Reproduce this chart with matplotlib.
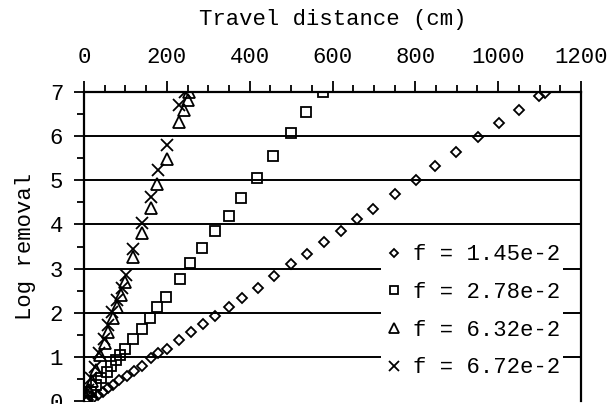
import matplotlib
matplotlib.use("Agg")
import matplotlib.pyplot as plt
from matplotlib.ticker import MultipleLocator

plt.rcParams['font.family'] = ['Liberation Mono', 'DejaVu Sans']

# f = 1.45e-2 (diamonds)
d_x = [10, 22, 33, 45, 57, 71, 85, 103, 121, 141, 161, 179, 200, 229, 258, 288, 317, 351,
       381, 420, 459, 500, 538, 580, 620, 660, 698, 751, 802, 847, 898, 952, 1002, 1050, 1098, 1113]
d_y = [0.02, 0.07, 0.14, 0.21, 0.29, 0.36, 0.48, 0.57, 0.68, 0.79, 0.97, 1.08, 1.17, 1.38, 1.57, 1.74, 1.93, 2.14,
       2.34, 2.57, 2.84, 3.10, 3.33, 3.60, 3.84, 4.12, 4.36, 4.68, 5.01, 5.32, 5.63, 5.97, 6.30, 6.59, 6.91, 6.98]
# f = 2.78e-2 (squares)
s_x = [8, 16, 28, 41, 55, 64, 77, 87, 100, 118, 139, 159, 177, 198, 232, 256, 286, 316, 350,
       378, 417, 456, 499, 536, 578]
s_y = [0.08, 0.21, 0.36, 0.51, 0.66, 0.80, 0.93, 1.05, 1.17, 1.40, 1.64, 1.87, 2.13, 2.36, 2.76, 3.12, 3.47, 3.84, 4.19,
       4.59, 5.06, 5.54, 6.06, 6.54, 7.00]
# f = 6.32e-2 (triangles)
t_x = [5, 12, 20, 29, 39, 51, 59, 70, 79, 89, 98, 119, 141, 161, 177, 200, 229, 242, 250, 254]
t_y = [0.10, 0.25, 0.45, 0.70, 1.05, 1.31, 1.57, 1.87, 2.14, 2.40, 2.70, 3.27, 3.81, 4.37, 4.92, 5.48, 6.31, 6.59, 6.82, 6.99]
# f = 6.72e-2 (crosses)
c_x = [4, 9, 16, 26, 37, 48, 59, 68, 79, 91, 101, 119, 139, 161, 178, 200, 230, 244]
c_y = [0.08, 0.25, 0.52, 0.78, 1.08, 1.40, 1.72, 2.02, 2.29, 2.55, 2.85, 3.44, 4.04, 4.63, 5.23, 5.80, 6.71, 6.99]

labels = ["f = 1.45e-2", "f = 2.78e-2", "f = 6.32e-2", "f = 6.72e-2"]
x_ticks = [0, 200, 400, 600, 800, 1000, 1200]
y_ticks = [0, 1, 2, 3, 4, 5, 6, 7]

fig = plt.figure(figsize=(6.13, 4.04), dpi=100)
ax = fig.add_axes([84/613, 3/404, 497/613, 309/404])

for yv in y_ticks[1:-1]:
    ax.axhline(yv, color='black', lw=1.4, zorder=1)

mew = 1.3
ax.plot(d_x, d_y, linestyle='none', marker='D', ms=5.5, mfc='none', mec='black', mew=mew, label=labels[0], zorder=3)
ax.plot(s_x, s_y, linestyle='none', marker='s', ms=7.5, mfc='none', mec='black', mew=mew, label=labels[1], zorder=3)
ax.plot(t_x, t_y, linestyle='none', marker='^', ms=9, mfc='none', mec='black', mew=mew, label=labels[2], zorder=3)
ax.plot(c_x, c_y, linestyle='none', marker='x', ms=9, mfc='none', mec='black', mew=mew, label=labels[3], zorder=3)

ax.set_xlim(0, 1200)
ax.set_ylim(0, 7)
ax.xaxis.tick_top()
ax.xaxis.set_label_position('top')
ax.set_xticks(x_ticks)
ax.xaxis.set_minor_locator(MultipleLocator(50))
ax.set_yticks(y_ticks)
ax.yaxis.set_minor_locator(MultipleLocator(0.5))
ax.tick_params(axis='x', which='major', direction='out', length=8, width=1.3, labelsize=16, pad=9)
ax.tick_params(axis='x', which='minor', direction='out', length=5, width=1.3)
ax.tick_params(axis='y', which='major', direction='out', length=7, width=1.3, labelsize=16, pad=8)
ax.tick_params(axis='y', which='minor', direction='out', length=5, width=1.3)
for s in ['top', 'left', 'right']:
    ax.spines[s].set_linewidth(1.6)
ax.spines['bottom'].set_visible(False)

ax.set_xlabel("Travel distance (cm)", fontsize=16, labelpad=16)
ax.set_ylabel("Log removal", fontsize=16, labelpad=10)

leg = ax.legend(loc='upper left', bbox_to_anchor=((381 - 84) / 497, 0.514), fontsize=16, frameon=True,
                fancybox=False, framealpha=1, edgecolor='white', handlelength=1.0,
                handletextpad=0.35, labelspacing=0.75, borderpad=0.1, borderaxespad=0,
                markerscale=0.75)
leg.get_frame().set_linewidth(0)
leg.set_zorder(4)

fig.savefig("out.png", dpi=100)
